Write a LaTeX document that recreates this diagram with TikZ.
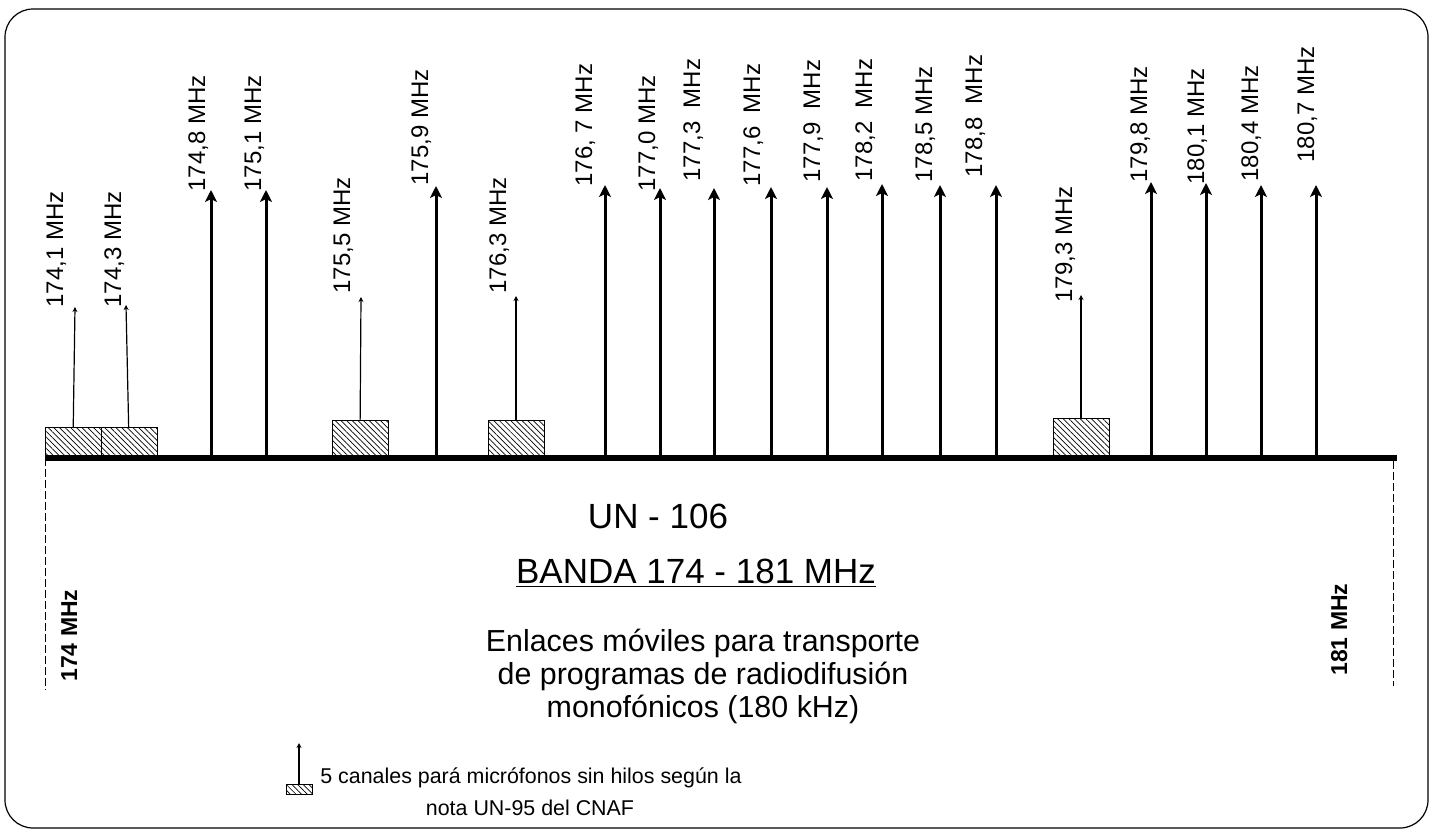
\documentclass[tikz,border=0pt]{standalone}
\usepackage{fontspec}
\setmainfont{Liberation Sans}
\usetikzlibrary{arrows.meta,patterns.meta}

\begin{document}
\begin{tikzpicture}[x=0.5pt,y=0.5pt,
  freq/.style={rotate=90,anchor=base west,inner sep=0pt,font=\fontsize{12}{14}\selectfont},
  bandedge/.style={rotate=90,anchor=base west,inner sep=0pt,font=\bfseries\fontsize{11.5}{14}\selectfont},
  carrier/.style={-{Stealth[length=6pt,width=6pt,inset=1.5pt]},line width=1.5pt},
  micro/.style={-{Stealth[length=2.5pt,width=2.5pt]},line width=0.6pt},
  micbox/.style={draw,line width=0.5pt,inner sep=0pt,anchor=south,minimum width=28pt,minimum height=18.5pt,
    pattern={Lines[angle=-45,distance=2pt,line width=0.35pt]}},
  limit/.style={line width=0.3pt,dash pattern=on 4pt off 1.5pt}]
  \useasboundingbox (0,0) rectangle (1436,-832);
  \draw[line width=0.6pt,rounded corners=14pt] (5,-9) rectangle (1428,-828);

  % band axis and limits
  \coordinate (f174) at (45,-458);
  \coordinate (f181) at (1397,-458);
  \coordinate (dl) at (45,-690);
  \coordinate (dr) at (1393,-686);
  \coordinate (dr0) at (1393,-461);
  \path[limit] (f174) edge (dl);
  \path[limit] (dr0) edge (dr);
  \draw (77,-682) node[bandedge] (lo) {174 MHz};
  \draw (1347,-676) node[bandedge] (hi) {181 MHz};

  % microphone channels
  \draw (73,-458) node[micbox,minimum height=15pt] (m1) {};
  \draw (129,-458) node[micbox,minimum height=15pt] (m2) {};
  \draw (360,-458) node[micbox] (m3) {};
  \draw (516,-458) node[micbox] (m4) {};
  \draw (1081,-456) node[micbox] (m5) {};
  \coordinate (t1) at (75,-307);
  \coordinate (t2) at (126,-305);
  \coordinate (t5) at (361,-297);
  \coordinate (t7) at (516,-296);
  \coordinate (t16) at (1081,-295);

  % carriers
  \coordinate (b3) at (211,-456);   \coordinate (t3) at (211,-190);
  \coordinate (b4) at (266,-456);   \coordinate (t4) at (266,-190);
  \coordinate (b6) at (436,-456);   \coordinate (t6) at (436,-186);
  \coordinate (b8) at (605,-456);   \coordinate (t8) at (605,-185);
  \coordinate (b9) at (660,-456);   \coordinate (t9) at (660,-188);
  \coordinate (b10) at (714,-456);  \coordinate (t10) at (714,-188);
  \coordinate (b11) at (771,-456);  \coordinate (t11) at (771,-187);
  \coordinate (b12) at (827,-456);  \coordinate (t12) at (827,-187);
  \coordinate (b13) at (882,-456);  \coordinate (t13) at (882,-184);
  \coordinate (b14) at (940,-456);  \coordinate (t14) at (940,-185);
  \coordinate (b15) at (996,-456);  \coordinate (t15) at (996,-185);
  \coordinate (b17) at (1151,-456); \coordinate (t17) at (1151,-182);
  \coordinate (b18) at (1206,-456); \coordinate (t18) at (1206,-183);
  \coordinate (b19) at (1261,-456); \coordinate (t19) at (1261,-185);
  \coordinate (b20) at (1316,-456); \coordinate (t20) at (1316,-185);

  \draw (63,-308) node[freq] (l1) {174,1 MHz};
  \draw (121,-308) node[freq] (l2) {174,3 MHz};
  \draw (205,-192) node[freq] (l3) {174,8 MHz};
  \draw (261,-192) node[freq] (l4) {175,1 MHz};
  \draw (350,-294) node[freq] (l5) {175,5 MHz};
  \draw (428,-186) node[freq] (l6) {175,9 MHz};
  \draw (506,-294) node[freq] (l7) {176,3 MHz};
  \draw (592,-187) node[freq] (l8) {176, 7 MHz};
  \draw (655,-192) node[freq] (l9) {177,0 MHz};
  \draw (700,-182) node[freq] (l10) {177,3~~MHz};
  \draw (760,-187) node[freq] (l11) {177,6~~MHz};
  \draw (820,-183) node[freq] (l12) {177,9~~MHz};
  \draw (872,-182) node[freq] (l13) {178,2~~MHz};
  \draw (932,-183) node[freq] (l14) {178,5 MHz};
  \draw (982,-178) node[freq] (l15) {178,8~~MHz};
  \draw (1072,-303) node[freq] (l16) {179,3 MHz};
  \draw (1147,-183) node[freq] (l17) {179,8 MHz};
  \draw (1204,-185) node[freq] (l18) {180,1 MHz};
  \draw (1258,-182) node[freq] (l19) {180,4 MHz};
  \draw (1314,-163) node[freq] (l20) {180,7 MHz};

  \path[micro] (m1) edge (t1);
  \path[micro] (m2) edge (t2);
  \path[micro] (m3) edge (t5);
  \path[micro] (m4) edge (t7);
  \path[micro] (m5) edge (t16);
  \path[carrier] (b3) edge (t3);
  \path[carrier] (b4) edge (t4);
  \path[carrier] (b6) edge (t6);
  \path[carrier] (b8) edge (t8);
  \path[carrier] (b9) edge (t9);
  \path[carrier] (b10) edge (t10);
  \path[carrier] (b11) edge (t11);
  \path[carrier] (b12) edge (t12);
  \path[carrier] (b13) edge (t13);
  \path[carrier] (b14) edge (t14);
  \path[carrier] (b15) edge (t15);
  \path[carrier] (b17) edge (t17);
  \path[carrier] (b18) edge (t18);
  \path[carrier] (b19) edge (t19);
  \path[carrier] (b20) edge (t20);
  \path[line width=3pt] (f174) edge (f181);

  % titles
  \draw (658,-528) node[anchor=base,font=\fontsize{17.5}{20}\selectfont] (un) {UN - 106};
  \draw (696,-583) node[anchor=base,font=\fontsize{17.5}{20}\selectfont] (banda) {\underline{BANDA 174 - 181 MHz}};
  \draw (703,-676) node[align=center,font=\fontsize{15.2}{16.5}\selectfont] (desc)
    {Enlaces móviles para transporte\\de programas de radiodifusión\\monofónicos (180 kHz)};

  % legend
  \draw (299,-795) node[micbox,minimum width=13pt,minimum height=5pt] (legbox) {};
  \coordinate (legtip) at (299,-743);
  \path[micro] (legbox) edge (legtip);
  \draw (320,-783) node[anchor=base west,inner sep=0pt,font=\fontsize{10.7}{13}\selectfont] (legtxt)
    {5 canales pará micrófonos sin hilos según la};
  \draw (530,-815) node[anchor=base,inner sep=0pt,font=\fontsize{10.7}{13}\selectfont] (legtxt2)
    {nota UN-95 del CNAF};
\end{tikzpicture}
\end{document}
